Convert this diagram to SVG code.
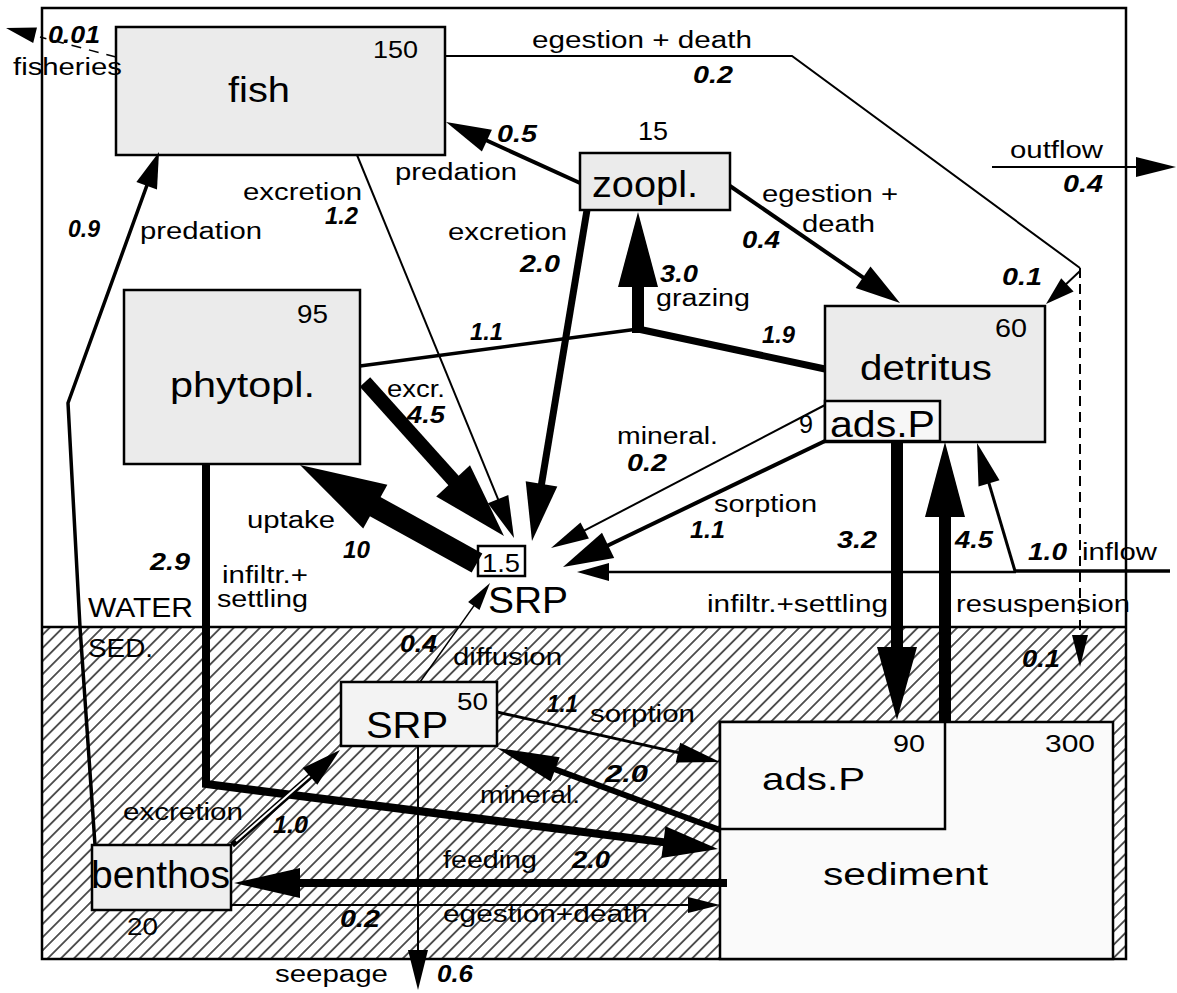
<svg xmlns="http://www.w3.org/2000/svg" width="1177" height="993" viewBox="0 0 1177 993">
<defs>
<pattern id="hatch" patternUnits="userSpaceOnUse" width="9.3" height="9.3" patternTransform="rotate(45)">
<line x1="4.65" y1="0" x2="4.65" y2="9.3" stroke="#000" stroke-width="1.3"/>
</pattern>
<style>
.box{stroke:#000;stroke-width:2.5}
.g1{fill:#ebebeb}
.g2{fill:#f3f3f3}
.w{fill:#fff}
.ln{stroke:#000;fill:none;stroke-linecap:butt}
.hd{fill:#000;stroke:none}
text{font-family:"Liberation Sans",Arial,sans-serif;fill:#000}
.bt{font-size:35px}
.bn{font-size:23px}
.lb{font-size:23px}
.nm{font-size:24px;font-weight:bold;font-style:italic}
</style>
</defs>
<rect width="1177" height="993" fill="#fff"/>
<g id="background">
<rect x="42" y="627" width="1084" height="332" fill="url(#hatch)"/>
<rect x="42" y="8" width="1084" height="951" fill="none" stroke="#000" stroke-width="2.5"/>
<line x1="42" y1="627" x2="1126" y2="627" stroke="#000" stroke-width="2.5"/>
<text class="lb" x="88" y="617" textLength="105" lengthAdjust="spacingAndGlyphs" style="font-size:27px">WATER</text>
<text class="lb" x="88" y="657" textLength="65" lengthAdjust="spacingAndGlyphs" style="font-size:26px">SED.</text>
</g>
<g id="node-fish"><rect class="box g1" x="116" y="27" width="329" height="128"/>
<text class="bt" x="228" y="102" textLength="62" lengthAdjust="spacingAndGlyphs">fish</text>
<text class="bn" x="373" y="58" textLength="45" lengthAdjust="spacingAndGlyphs">150</text></g>
<g id="node-zoopl"><rect class="box g1" x="580" y="153" width="150" height="57"/>
<text class="bt" x="592" y="197" textLength="106" lengthAdjust="spacingAndGlyphs" style="font-size:36px">zoopl.</text>
<text class="bn" x="638" y="140" textLength="30" lengthAdjust="spacingAndGlyphs" style="font-size:25px">15</text></g>
<g id="node-phytopl"><rect class="box g1" x="124" y="290" width="236" height="174"/>
<text class="bt" x="170" y="397" textLength="145" lengthAdjust="spacingAndGlyphs">phytopl.</text>
<text class="bn" x="297" y="323" textLength="31" lengthAdjust="spacingAndGlyphs" style="font-size:25px">95</text></g>
<g id="node-detritus"><rect class="box g1" x="825" y="306" width="220" height="136"/>
<rect class="box" fill="#f7f7f7" x="825" y="401" width="115" height="40"/>
<text class="bt" x="860" y="380" textLength="132" lengthAdjust="spacingAndGlyphs">detritus</text>
<text class="bt" x="830" y="437" textLength="105" lengthAdjust="spacingAndGlyphs" style="font-size:37px">ads.P</text>
<text class="bn" x="995" y="337" textLength="32" lengthAdjust="spacingAndGlyphs" style="font-size:25px">60</text>
<text class="bn" x="799" y="433" textLength="14" lengthAdjust="spacingAndGlyphs" style="font-size:25px">9</text></g>
<g id="node-srp-water"><rect class="box w" x="478" y="546" width="47" height="30"/>
<text class="bn" x="482" y="572" textLength="38" lengthAdjust="spacingAndGlyphs" style="font-size:26px">1.5</text>
<text class="bt" x="488" y="613" textLength="80" lengthAdjust="spacingAndGlyphs" style="font-size:36px">SRP</text></g>
<g id="node-srp-sed"><rect class="box g2" x="341" y="682" width="156" height="64"/>
<text class="bt" x="366" y="738" textLength="82" lengthAdjust="spacingAndGlyphs" style="font-size:37px">SRP</text>
<text class="bn" x="457" y="710" textLength="31" lengthAdjust="spacingAndGlyphs">50</text></g>
<g id="node-benthos"><rect class="box" fill="#eeeeee" x="92" y="845" width="139" height="65"/>
<text class="bt" x="91" y="888" textLength="139" lengthAdjust="spacingAndGlyphs" style="font-size:39px">benthos</text>
<text class="bn" x="127" y="935" textLength="31" lengthAdjust="spacingAndGlyphs">20</text></g>
<g id="node-sediment"><rect class="box" fill="#fafafa" x="720" y="722" width="393" height="237"/>
<rect class="box" fill="#fafafa" x="720" y="722" width="225" height="107"/>
<text class="bt" x="762" y="790" textLength="103" lengthAdjust="spacingAndGlyphs" style="font-size:32px">ads.P</text>
<text class="bt" x="823" y="885" textLength="165" lengthAdjust="spacingAndGlyphs" style="font-size:31px">sediment</text>
<text class="bn" x="893" y="752" textLength="32" lengthAdjust="spacingAndGlyphs">90</text>
<text class="bn" x="1045" y="752" textLength="50" lengthAdjust="spacingAndGlyphs">300</text></g>
<g id="connectors">
<line class="ln" x1="116" y1="57" x2="40" y2="37" stroke-width="1.5" stroke-dasharray="10 8"/>
<polygon class="hd" points="6,28 37,27.5 33.2,43.1"/>
<line class="ln" x1="580" y1="183" x2="466.5" y2="131.3" stroke-width="4"/>
<polygon class="hd" points="446,122 491.9,129.7 481.9,151.5"/>
<line class="ln" x1="587" y1="210" x2="536.8" y2="512.4" stroke-width="7"/>
<polygon class="hd" points="532,541 525.7,481.2 557.3,486.4"/>
<line class="ln" x1="357" y1="155" x2="506" y2="518.6" stroke-width="2"/>
<polygon class="hd" points="514,538 487.9,503.3 508.3,494.9"/>
<line class="ln" x1="365" y1="382" x2="478.6" y2="508.4" stroke-width="14"/>
<polygon class="hd" points="504,536 436.2,496.4 470,465.2"/>
<line class="ln" x1="477" y1="563" x2="356" y2="496" stroke-width="22"/>
<polygon class="hd" points="300,465 387.4,484.7 363.2,528.5"/>
<line class="ln" x1="360" y1="366" x2="638" y2="329" stroke-width="3.5"/>
<line class="ln" x1="638" y1="329" x2="825" y2="369" stroke-width="7"/>
<line class="ln" x1="638" y1="333" x2="638" y2="250" stroke-width="12"/>
<polygon class="hd" points="638,212 618,287 658,287"/>
<line class="ln" x1="730" y1="186" x2="881.5" y2="290.2" stroke-width="4"/>
<polygon class="hd" points="900,303 855.7,288 870.5,266.6"/>
<line class="ln" x1="825" y1="405" x2="567.9" y2="539.2" stroke-width="2"/>
<polygon class="hd" points="551,548 580.5,522.4 588.9,538.4"/>
<line class="ln" x1="825" y1="441" x2="585.5" y2="556.2" stroke-width="4"/>
<polygon class="hd" points="563,567 602,532.7 614.2,557.9"/>
<line class="ln" x1="1170" y1="571" x2="1015" y2="571" stroke-width="3.5"/>
<line class="ln" x1="1016" y1="572" x2="593" y2="572" stroke-width="2.5"/>
<polygon class="hd" points="577,572 609,563 609,581"/>
<line class="ln" x1="1015" y1="571" x2="983" y2="463.1" stroke-width="3"/>
<polygon class="hd" points="977,443 999.5,480.2 978.5,486.4"/>
<line class="ln" x1="897" y1="441" x2="897" y2="685" stroke-width="12"/>
<polygon class="hd" points="897,720 877,647 917,647"/>
<line class="ln" x1="945" y1="722" x2="945" y2="480" stroke-width="12"/>
<polygon class="hd" points="945,442 925,517 965,517"/>
<polyline class="ln" points="445,56 792,56 1080,268" stroke-width="2"/>
<line class="ln" x1="1080" y1="268" x2="1080" y2="650" stroke-width="2" stroke-dasharray="10 6"/>
<polygon class="hd" points="1080,667 1072,635 1088,635"/>
<line class="ln" x1="1080" y1="271" x2="1062" y2="288" stroke-width="2"/>
<polygon class="hd" points="1046,304 1061.2,278.2 1073.6,291.4"/>
<line class="ln" x1="992" y1="167" x2="1150" y2="167" stroke-width="2"/>
<polygon class="hd" points="1176,167 1136,157 1136,177"/>
<polyline class="ln" points="95,845 80,627 68,403 152.9,168.9" stroke-width="3.5" stroke-linejoin="round"/>
<polygon class="hd" points="159,152 157,189.6 136.4,182"/>
<polyline class="ln" points="206,464 206,784 690.7,845.6" stroke-width="8" stroke-linejoin="miter"/>
<polygon class="hd" points="718,849 661.4,858.1 665.4,826.3"/>
<line class="ln" x1="497" y1="712" x2="699.5" y2="757.4" stroke-width="3"/>
<polygon class="hd" points="720,762 675.8,762.4 680.2,742.8"/>
<line class="ln" x1="720" y1="830" x2="526.1" y2="758.7" stroke-width="6"/>
<polygon class="hd" points="497,748 559.7,757.2 550.7,781.6"/>
<line class="ln" x1="727" y1="883" x2="268" y2="883" stroke-width="8"/>
<polygon class="hd" points="234,883 300,868 300,898"/>
<line class="ln" x1="231" y1="905" x2="705" y2="905" stroke-width="2"/>
<polygon class="hd" points="720,905 688,897 688,913"/>
<line class="ln" x1="232" y1="845" x2="325" y2="763.2" stroke-width="6"/>
<line x1="236" y1="841" x2="312" y2="774" stroke="#fff" stroke-width="2"/>
<polygon class="hd" points="340,750 317.3,784.7 302.7,768.1"/>
<line class="ln" x1="420" y1="682" x2="479" y2="598.6" stroke-width="1.5"/>
<polygon class="hd" points="490,583 479.5,609.9 468.1,601.9"/>
<line class="ln" x1="418" y1="746" x2="418" y2="970" stroke-width="2"/>
<polygon class="hd" points="418,990 408,950 428,950"/>
</g>
<g id="labels">
<text class="lb" x="13" y="75" textLength="109" lengthAdjust="spacingAndGlyphs">fisheries</text>
<text class="lb" x="532" y="48" textLength="220" lengthAdjust="spacingAndGlyphs">egestion + death</text>
<text class="lb" x="395" y="180" textLength="122" lengthAdjust="spacingAndGlyphs">predation</text>
<text class="lb" x="243" y="200" textLength="119" lengthAdjust="spacingAndGlyphs">excretion</text>
<text class="lb" x="140" y="239" textLength="122" lengthAdjust="spacingAndGlyphs">predation</text>
<text class="lb" x="448" y="240" textLength="119" lengthAdjust="spacingAndGlyphs">excretion</text>
<text class="lb" x="762" y="202" textLength="136" lengthAdjust="spacingAndGlyphs">egestion +</text>
<text class="lb" x="802" y="232" textLength="73" lengthAdjust="spacingAndGlyphs">death</text>
<text class="lb" x="1010" y="158" textLength="93" lengthAdjust="spacingAndGlyphs">outflow</text>
<text class="lb" x="656" y="306" textLength="94" lengthAdjust="spacingAndGlyphs">grazing</text>
<text class="lb" x="387" y="397" textLength="58" lengthAdjust="spacingAndGlyphs">excr.</text>
<text class="lb" x="617" y="444" textLength="101" lengthAdjust="spacingAndGlyphs">mineral.</text>
<text class="lb" x="714" y="512" textLength="103" lengthAdjust="spacingAndGlyphs">sorption</text>
<text class="lb" x="247" y="528" textLength="88" lengthAdjust="spacingAndGlyphs">uptake</text>
<text class="lb" x="222" y="583" textLength="86" lengthAdjust="spacingAndGlyphs">infiltr.+</text>
<text class="lb" x="217" y="607" textLength="91" lengthAdjust="spacingAndGlyphs">settling</text>
<text class="lb" x="707" y="612" textLength="181" lengthAdjust="spacingAndGlyphs">infiltr.+settling</text>
<text class="lb" x="956" y="612" textLength="174" lengthAdjust="spacingAndGlyphs">resuspension</text>
<text class="lb" x="1082" y="560" textLength="75" lengthAdjust="spacingAndGlyphs">inflow</text>
<text class="lb" x="453" y="665" textLength="109" lengthAdjust="spacingAndGlyphs">diffusion</text>
<text class="lb" x="590" y="722" textLength="105" lengthAdjust="spacingAndGlyphs">sorption</text>
<text class="lb" x="480" y="803" textLength="100" lengthAdjust="spacingAndGlyphs">mineral.</text>
<text class="lb" x="123" y="820" textLength="120" lengthAdjust="spacingAndGlyphs">excretion</text>
<text class="lb" x="443" y="868" textLength="94" lengthAdjust="spacingAndGlyphs">feeding</text>
<text class="lb" x="443" y="922" textLength="205" lengthAdjust="spacingAndGlyphs">egestion+death</text>
<text class="lb" x="275" y="982" textLength="113" lengthAdjust="spacingAndGlyphs">seepage</text>
<text class="nm" x="48" y="43" textLength="52" lengthAdjust="spacingAndGlyphs">0.01</text>
<text class="nm" x="693" y="83" textLength="40" lengthAdjust="spacingAndGlyphs">0.2</text>
<text class="nm" x="497" y="142" textLength="40" lengthAdjust="spacingAndGlyphs">0.5</text>
<text class="nm" x="1063" y="192" textLength="40" lengthAdjust="spacingAndGlyphs">0.4</text>
<text class="nm" x="325" y="224" textLength="33" lengthAdjust="spacingAndGlyphs">1.2</text>
<text class="nm" x="68" y="237" textLength="32" lengthAdjust="spacingAndGlyphs">0.9</text>
<text class="nm" x="742" y="248" textLength="38" lengthAdjust="spacingAndGlyphs">0.4</text>
<text class="nm" x="520" y="272" textLength="40" lengthAdjust="spacingAndGlyphs">2.0</text>
<text class="nm" x="660" y="282" textLength="38" lengthAdjust="spacingAndGlyphs">3.0</text>
<text class="nm" x="1002" y="285" textLength="40" lengthAdjust="spacingAndGlyphs">0.1</text>
<text class="nm" x="470" y="340" textLength="33" lengthAdjust="spacingAndGlyphs">1.1</text>
<text class="nm" x="762" y="343" textLength="33" lengthAdjust="spacingAndGlyphs">1.9</text>
<text class="nm" x="407" y="423" textLength="38" lengthAdjust="spacingAndGlyphs">4.5</text>
<text class="nm" x="627" y="471" textLength="40" lengthAdjust="spacingAndGlyphs">0.2</text>
<text class="nm" x="690" y="538" textLength="35" lengthAdjust="spacingAndGlyphs">1.1</text>
<text class="nm" x="837" y="548" textLength="40" lengthAdjust="spacingAndGlyphs">3.2</text>
<text class="nm" x="955" y="548" textLength="38" lengthAdjust="spacingAndGlyphs">4.5</text>
<text class="nm" x="343" y="558" textLength="27" lengthAdjust="spacingAndGlyphs">10</text>
<text class="nm" x="1028" y="560" textLength="39" lengthAdjust="spacingAndGlyphs">1.0</text>
<text class="nm" x="150" y="570" textLength="40" lengthAdjust="spacingAndGlyphs">2.9</text>
<text class="nm" x="400" y="652" textLength="37" lengthAdjust="spacingAndGlyphs">0.4</text>
<text class="nm" x="1022" y="667" textLength="38" lengthAdjust="spacingAndGlyphs">0.1</text>
<text class="nm" x="547" y="712" textLength="31" lengthAdjust="spacingAndGlyphs">1.1</text>
<text class="nm" x="605" y="782" textLength="43" lengthAdjust="spacingAndGlyphs">2.0</text>
<text class="nm" x="273" y="833" textLength="35" lengthAdjust="spacingAndGlyphs">1.0</text>
<text class="nm" x="572" y="868" textLength="38" lengthAdjust="spacingAndGlyphs">2.0</text>
<text class="nm" x="340" y="927" textLength="40" lengthAdjust="spacingAndGlyphs">0.2</text>
<text class="nm" x="437" y="982" textLength="36" lengthAdjust="spacingAndGlyphs">0.6</text>
</g>
</svg>
